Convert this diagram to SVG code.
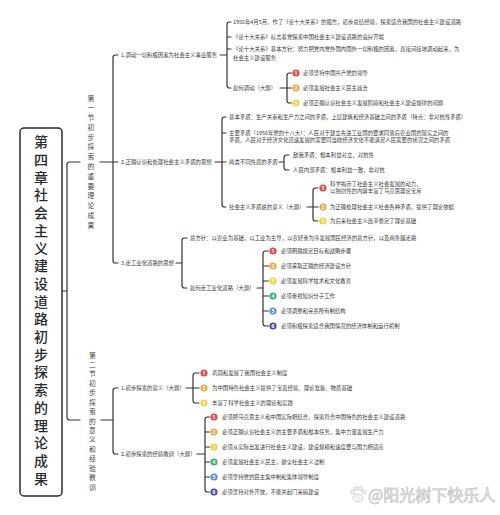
<svg xmlns="http://www.w3.org/2000/svg" width="500" height="515" viewBox="0 0 500 515">
<style>
.t{font-family:"Noto Sans CJK SC","Noto Sans",sans-serif;font-size:5.4px;fill:#3a3a3a}
.sec{font-family:"Noto Sans CJK SC","Noto Sans",sans-serif;font-size:6.8px;fill:#444;writing-mode:vertical-rl}
.title{font-family:"Noto Sans CJK SC","Noto Sans",sans-serif;font-size:14px;font-weight:500;fill:#2a2a2a;writing-mode:vertical-rl;letter-spacing:3.7px}
.ln{fill:none;stroke:#333;stroke-width:1.2;stroke-linecap:round;stroke-linejoin:round}
.n{font-family:"Noto Sans","Noto Sans CJK SC",sans-serif;font-size:5px;font-weight:bold;fill:#fff;text-anchor:middle}
.c1{fill:#e04e4e}.c2{fill:#f0a848}.c3{fill:#f2d040}.c4{fill:#3db27a}.c5{fill:#5b8fe0}.c6{fill:#4a4fa6}
.wm{font-family:"Noto Sans CJK SC",sans-serif;font-size:16px;fill:#f2f2f2;stroke:#c4c4c4;stroke-width:0.7}
</style>
<defs>
<circle id="dot" r="3.6"/>
</defs>
<rect width="500" height="515" fill="#fff"/>

<g id="connectors" class="ln">
<path d="M62 291 H67 M80 162 H69.5 Q67 162 67 164.5 V417.5 Q67 420 69.5 420 H80"/>
<path d="M100 162 H118 M118 55 H115.5 Q113 55 113 57.5 V260.5 Q113 263 115.5 263 H118"/>
<path d="M101 420 H113 M118 388 H115.5 Q113 388 113 390.5 V451.5 Q113 454 115.5 454 H118"/>
<path d="M220 55 H227 M231 22 H229.5 Q227 22 227 24.5 V85.5 Q227 88 229.5 88 H231 M227 37 H231 M227 49 H231"/>
<path d="M280 88 H291.5 M291.5 73 H289.5 Q287 73 287 75.5 V100.5 Q287 103 289.5 103 H291.5"/>
<path d="M215 162 H226 M226 117 H224.5 Q222 117 222 119.5 V204.5 Q222 207 224.5 207 H226 M222 133 H226"/>
<path d="M279 162 H284 M289 155 H286.5 Q284 155 284 157.5 V167.5 Q284 170 286.5 170 H289"/>
<path d="M307 207 H318 M318 188 H315.5 Q313 188 313 190.5 V218.5 Q313 221 315.5 221 H318"/>
<path d="M176 263 H182 M187 238 H184.5 Q182 238 182 240.5 V285.5 Q182 288 184.5 288 H187"/>
<path d="M257 288 H263 M268.5 251 H265.5 Q263 251 263 253.5 V323.5 Q263 326 265.5 326 H268.5 M263 266 H268.5 M263 281 H268.5 M263 296 H268.5 M263 311 H268.5"/>
<path d="M186 388 H199 M199 373 H195.5 Q193 373 193 375.5 V400.5 Q193 403 195.5 403 H199"/>
<path d="M197 454 H205 M209.5 417 H207.5 Q205 417 205 419.5 V489.5 Q205 492 207.5 492 H209.5 M205 432 H209.5 M205 447 H209.5 M205 462 H209.5 M205 477 H209.5"/>
</g>

<g id="title">
<rect x="20" y="128" width="42" height="368" rx="4" fill="#fff" stroke="#2a2a2a" stroke-width="1.5"/>
<text class="title" x="41" y="135">第四章社会主义建设道路初步探索的理论成果</text>
</g>

<g id="sec1">
<text class="sec" x="91" y="94.6" style="letter-spacing:2.97px">第一节初步探索的重要理论成果</text>
</g>
<g id="sec2">
<text class="sec" x="92.5" y="351.6" style="letter-spacing:2.63px">第二节初步探索的意义和经验教训</text>
</g>

<g id="n1">
<text class="t" x="121" y="57">1.调动一切积极因素为社会主义事业服务</text>
<text class="t" x="233" y="24">1956年4月5月，作了《论十大关系》的报告，初步总结经验，探索适合我国的社会主义建设道路</text>
<text class="t" x="233" y="39">《论十大关系》标志着党探索中国社会主义建设道路的良好开端</text>
<text class="t" x="233" y="51">《论十大关系》基本方针：努力把党内党外国内国外一切积极的因素，直接间接地调动起来，为</text>
<text class="t" x="233" y="59.5">社会主义建设服务</text>
<text class="t" x="233" y="90">如何调动（大题）</text>
</g>
<g id="n1-how">
<use href="#dot" x="296" y="73" class="c1"/><text class="n" x="296" y="74.8">1</text>
<text class="t" x="303" y="75">必须坚持中国共产党的领导</text>
<use href="#dot" x="296" y="88" class="c2"/><text class="n" x="296" y="89.8">2</text>
<text class="t" x="303" y="90">必须发展社会主义民主政治</text>
<use href="#dot" x="296" y="103" class="c3"/><text class="n" x="296" y="104.8">3</text>
<text class="t" x="303" y="105">必须正确认识社会主义发展阶段和社会主义建设规律的问题</text>
</g>

<g id="n2">
<text class="t" x="121" y="164">2.正确认识和处理社会主义矛盾的思想</text>
<text class="t" x="229" y="119">基本矛盾：生产关系和生产力之间的矛盾，上层建筑和经济基础之间的矛盾（特点：非对抗性矛盾）</text>
<text class="t" x="229" y="135">主要矛盾（1956年党的十八大）：人民对于建立先进工业国的要求同落后农业国的现实之间的</text>
<text class="t" x="229" y="142">矛盾，人民对于经济文化迅速发展的需要同当前经济文化不能满足人民需要的状况之间的矛盾</text>
<text class="t" x="229" y="164">两类不同性质的矛盾</text>
<text class="t" x="293" y="157">敌我矛盾：根本利益对立，对抗性</text>
<text class="t" x="293" y="172">人民内部矛盾：根本利益一致，非对抗</text>
<text class="t" x="229" y="209">社会主义矛盾说的意义（大题）</text>
</g>
<g id="n2-meaning">
<use href="#dot" x="323" y="188" class="c1"/><text class="n" x="323" y="189.8">1</text>
<text class="t" x="330" y="186">科学揭示了社会主义社会发展的动力，</text>
<text class="t" x="330" y="193">以独创性的内容丰富了马克思理论宝库</text>
<use href="#dot" x="323" y="207" class="c2"/><text class="n" x="323" y="208.8">2</text>
<text class="t" x="330" y="209">为正确处理社会主义社会各种矛盾，提供了理论依据</text>
<use href="#dot" x="323" y="221" class="c3"/><text class="n" x="323" y="222.8">3</text>
<text class="t" x="330" y="223">为后来社会主义改革奠定了理论基础</text>
</g>

<g id="n3">
<text class="t" x="121" y="265">3.走工业化道路的思想</text>
<text class="t" x="190" y="240">总方针：以农业为基础，以工业为主导，以农轻重为序发展国民经济的总方针，以及两条腿走路</text>
<text class="t" x="190" y="290">如何走工业化道路（大题）</text>
</g>
<g id="n3-how">
<use href="#dot" x="273" y="251" class="c1"/><text class="n" x="273" y="252.8">1</text>
<text class="t" x="281" y="253">必须明确规定目标和战略步骤</text>
<use href="#dot" x="273" y="266" class="c2"/><text class="n" x="273" y="267.8">2</text>
<text class="t" x="281" y="268">必须采取正确的经济建设方针</text>
<use href="#dot" x="273" y="281" class="c3"/><text class="n" x="273" y="282.8">3</text>
<text class="t" x="281" y="283">必须发展科学技术和文化教育</text>
<use href="#dot" x="273" y="296" class="c4"/><text class="n" x="273" y="297.8">4</text>
<text class="t" x="281" y="298">必须重视知识分子工作</text>
<use href="#dot" x="273" y="311" class="c5"/><text class="n" x="273" y="312.8">5</text>
<text class="t" x="281" y="313">必须调整和完善所有制结构</text>
<use href="#dot" x="273" y="326" class="c6"/><text class="n" x="273" y="327.8">6</text>
<text class="t" x="281" y="328">必须积极探索适合我国情况的经济体制和运行机制</text>
</g>

<g id="s2n1">
<text class="t" x="121" y="390">1.初步探索的意义（大题）</text>
<use href="#dot" x="204" y="373" class="c1"/><text class="n" x="204" y="374.8">1</text>
<text class="t" x="212" y="375">巩固和发展了我国社会主义制度</text>
<use href="#dot" x="204" y="388" class="c2"/><text class="n" x="204" y="389.8">2</text>
<text class="t" x="212" y="390">为中国特色社会主义提供了宝贵经验、理论准备、物质基础</text>
<use href="#dot" x="204" y="403" class="c3"/><text class="n" x="204" y="404.8">3</text>
<text class="t" x="212" y="405">丰富了科学社会主义的理论和实践</text>
</g>

<g id="s2n2">
<text class="t" x="121" y="456">2.初步探索的经验教训（大题）</text>
<use href="#dot" x="214" y="417" class="c1"/><text class="n" x="214" y="418.8">1</text>
<text class="t" x="222" y="419">必须把马克思主义和中国实际相结合，探索符合中国特色的社会主义建设道路</text>
<use href="#dot" x="214" y="432" class="c2"/><text class="n" x="214" y="433.8">2</text>
<text class="t" x="222" y="434">必须正确认识社会主义的主要矛盾和根本任务，集中力量发展生产力</text>
<use href="#dot" x="214" y="447" class="c3"/><text class="n" x="214" y="448.8">3</text>
<text class="t" x="222" y="449">必须从实际出发进行社会主义建设，建设规模和速度要与国力相适应</text>
<use href="#dot" x="214" y="462" class="c4"/><text class="n" x="214" y="463.8">4</text>
<text class="t" x="222" y="464">必须发展社会主义民主，健全社会主义法制</text>
<use href="#dot" x="214" y="477" class="c5"/><text class="n" x="214" y="478.8">5</text>
<text class="t" x="222" y="479">必须坚持党的民主集中制和集体领导制度</text>
<use href="#dot" x="214" y="492" class="c6"/><text class="n" x="214" y="493.8">6</text>
<text class="t" x="222" y="494">必须坚持对外开放，不能关起门来搞建设</text>
</g>

<g id="watermark" fill="#f2f2f2" stroke="#c4c4c4" stroke-width="0.7">
<ellipse cx="358" cy="498" rx="5" ry="4"/>
<circle cx="352.5" cy="492" r="2"/><circle cx="356" cy="488.5" r="2"/><circle cx="360.5" cy="488.5" r="2"/><circle cx="364" cy="492" r="2"/>
<text class="wm" x="368" y="501">@阳光树下快乐人</text>
</g>
</svg>
